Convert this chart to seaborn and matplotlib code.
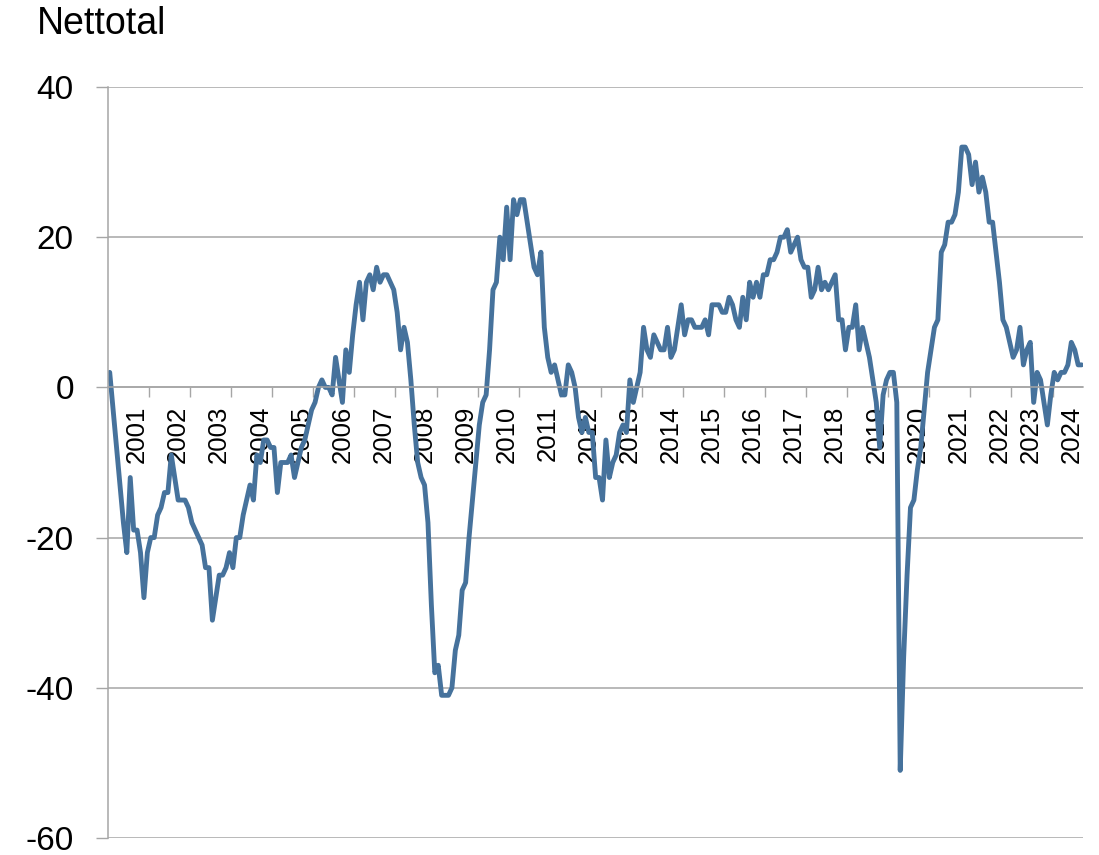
import numpy as np
import pandas as pd
import matplotlib
matplotlib.use("Agg")
import matplotlib.pyplot as plt
import seaborn as sns

# ---------------- data ----------------
title = "Nettotal"
year_labels = [str(y) for y in range(2001, 2025)]
# number of monthly observations in each calendar year, 2000 .. 2024
months_per_year = [8] + [12] * 21 + [9, 12, 4]

v2000 = [2, -3, -8, -13, -18, -22, -12, -19]
v2001 = [-19, -22, -28, -22, -20, -20, -17, -16, -14, -14, -9, -12]
v2002 = [-15, -15, -15, -16, -18, -19, -20, -21, -24, -24, -31, -28]
v2003 = [-25, -25, -24, -22, -24, -20, -20, -17, -15, -13, -15, -9]
v2004 = [-10, -7, -7, -8, -8, -14, -10, -10, -10, -9, -12, -10]
v2005 = [-8, -7, -5, -3, -2, 0, 1, 0, 0, -1, 4, 1]
v2006 = [-2, 5, 2, 7, 11, 14, 9, 14, 15, 13, 16, 14]
v2007 = [15, 15, 14, 13, 10, 5, 8, 6, 1, -5, -10, -12]
v2008 = [-13, -18, -29, -38, -37, -41, -41, -41, -40, -35, -33, -27]
v2009 = [-26, -20, -15, -10, -5, -2, -1, 5, 13, 14, 20, 17]
v2010 = [24, 17, 25, 23, 25, 25, 22, 19, 16, 15, 18, 8]
v2011 = [4, 2, 3, 1, -1, -1, 3, 2, 0, -4, -6, -4]
v2012 = [-6, -6, -12, -12, -15, -7, -12, -10, -9, -6, -5, -6]
v2013 = [1, -2, 0, 2, 8, 5, 4, 7, 6, 5, 5, 8]
v2014 = [4, 5, 8, 11, 7, 9, 9, 8, 8, 8, 9, 7]
v2015 = [11, 11, 11, 10, 10, 12, 11, 9, 8, 12, 9, 14]
v2016 = [12, 14, 12, 15, 15, 17, 17, 18, 20, 20, 21, 18]
v2017 = [19, 20, 17, 16, 16, 12, 13, 16, 13, 14, 13, 14]
v2018 = [15, 9, 9, 5, 8, 8, 11, 5, 8, 6, 4, 1]
v2019 = [-2, -8, -1, 1, 2, 2, -2, -51, -36, -25, -16, -15]
v2020 = [-11, -8, -3, 2, 5, 8, 9, 18, 19, 22, 22, 23]
v2021 = [26, 32, 32, 31, 27, 30, 26, 28, 26, 22, 22, 18]
v2022 = [14, 9, 8, 6, 4, 5, 8, 3, 5]
v2023 = [6, -2, 2, 1, -2, -5, -1, 2, 1, 2, 2, 3]
v2024 = [6, 5, 3, 3]

values = (v2000 + v2001 + v2002 + v2003 + v2004 + v2005 + v2006 + v2007 + v2008
          + v2009 + v2010 + v2011 + v2012 + v2013 + v2014 + v2015 + v2016
          + v2017 + v2018 + v2019 + v2020 + v2021 + v2022 + v2023 + v2024)

# ---------------- style ----------------
sns.set_style("white")
plt.rcParams["font.family"] = ["Liberation Sans", "DejaVu Sans"]
plt.rcParams["axes.unicode_minus"] = False
plt.rcParams["text.color"] = "black"

W, H = 1099, 855
fig = plt.figure(figsize=(W / 100, H / 100), dpi=100)
ax = fig.add_axes([108 / W, 17 / H, (1083.3 - 108) / W, (838 - 87) / H])

line_color = "#46729C"
grid_color = "#A6A6A6"

df = pd.DataFrame({"idx": np.arange(len(values)), "value": values})
sns.lineplot(data=df, x="idx", y="value", color=line_color, linewidth=3.5, ax=ax)
for ln in ax.lines:
    ln.set_solid_joinstyle("round")
    ln.set_solid_capstyle("round")

n = len(values)
ax.set_xlim(-0.5, n - 0.5)
ax.set_ylim(-60, 40)

# y axis
yt = list(range(-60, 41, 20))
ax.set_yticks(yt)
ax.set_yticklabels([str(v) for v in yt])
ax.yaxis.grid(True, color=grid_color, linewidth=1.1)
ax.xaxis.grid(False)
ax.set_axisbelow(True)
ax.tick_params(axis="y", which="major", direction="out", length=8.6, width=1.0,
               color=grid_color, labelsize=24, labelcolor="black", pad=16, left=True)

# x axis (crosses at 0)
for s in ["top", "right"]:
    ax.spines[s].set_visible(False)
ax.spines["bottom"].set_position(("data", 0))
ax.spines["bottom"].set_color(grid_color)
ax.spines["bottom"].set_linewidth(1.1)
ax.spines["left"].set_color(grid_color)
ax.spines["left"].set_linewidth(1.1)

boundaries = np.arange(11.5, n, 12)
ax.set_xticks(boundaries)
ax.set_xticklabels([""] * len(boundaries))
starts = np.cumsum([0] + months_per_year[:-1])
ax.set_xticks(starts[1:], minor=True)
ax.set_xticklabels(year_labels, minor=True, rotation=90)
ax.tick_params(axis="x", which="major", direction="out", length=7.2, width=1.0,
               color=grid_color, bottom=True)
ax.tick_params(axis="x", which="minor", length=0, labelsize=18.5,
               labelcolor="black", pad=13)
ax.set_xlabel("")
ax.set_ylabel("")

fig.text(37 / W, 1 - 6 / H, title, fontsize=27, color="black", ha="left", va="top")

fig.savefig("out.png", dpi=100)
